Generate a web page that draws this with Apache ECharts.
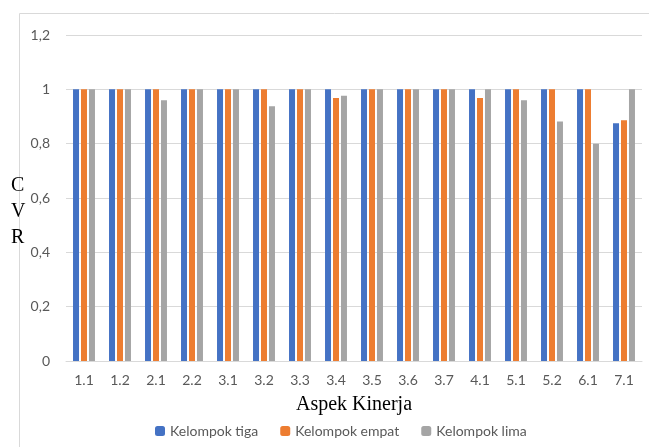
<!DOCTYPE html>
<html><head><meta charset="utf-8">
<script src="https://cdn.jsdelivr.net/npm/echarts@6/dist/echarts.min.js"></script>
<style>html,body{margin:0;padding:0;background:#fff}#c{width:649px;height:447px}</style>
</head><body><div id="c"></div>
<script>
var categories = ['1.1','1.2','2.1','2.2','3.1','3.2','3.3','3.4','3.5','3.6','3.7','4.1','5.1','5.2','6.1','7.1'];
var seriesNames = ['Kelompok tiga','Kelompok empat','Kelompok lima'];
var kelompokTiga = [1,1,1,1,1,1,1,1,1,1,1,1,1,1,1,0.875];
var kelompokEmpat = [1,1,1,1,1,1,1,0.968,1,1,1,0.968,1,1,1,0.886];
var kelompokLima = [1,1,0.96,1,1,0.938,1,0.976,1,1,1,1,0.96,0.882,0.8,1];
var colors = ['#4472C4','#ED7D31','#A5A5A5'];
var chart = echarts.init(document.getElementById('c'));
var tickFont = 'Lato, "Liberation Sans", sans-serif';
function mk(name, data, i){
  return {name:name, type:'bar', data:data, barWidth:6, barGap:'33%',
    itemStyle:{color:colors[i]}};
}
chart.setOption({
  animation:false,
  graphic:[
    {type:'rect', shape:{x:19.5,y:13.5,width:700,height:600}, style:{fill:'none',stroke:'#d9d9d9',lineWidth:1}, silent:true},
    {type:'text', left:11, top:173, style:{text:'C\nV\nR', font:'20px "Liberation Serif", serif', fill:'#000', lineHeight:26, align:'center'}}
  ],
  grid:{left:66, right:7, top:35, bottom:86},
  legend:{bottom:4, left:150, itemWidth:10, itemHeight:10, itemGap:22,
    textStyle:{color:'#595959', fontSize:14, fontFamily:tickFont}},
  xAxis:{type:'category', data:categories, name:'Aspek Kinerja', nameLocation:'middle', nameGap:34,
    nameTextStyle:{color:'#000', fontSize:20, fontFamily:'"Liberation Serif", serif'},
    axisLine:{lineStyle:{color:'#d9d9d9'}}, axisTick:{show:false},
    axisLabel:{color:'#595959', fontSize:14, fontFamily:tickFont, margin:12}},
  yAxis:{type:'value', min:0, max:1.2, interval:0.2,
    axisLine:{show:false}, axisTick:{show:false},
    splitLine:{lineStyle:{color:'#d9d9d9'}},
    axisLabel:{color:'#595959', fontSize:14, fontFamily:tickFont, margin:16,
      formatter:function(v){return (Math.round(v*10)/10).toString().replace('.',',');}}},
  series:[mk(seriesNames[0],kelompokTiga,0), mk(seriesNames[1],kelompokEmpat,1), mk(seriesNames[2],kelompokLima,2)]
});
</script></body></html>
